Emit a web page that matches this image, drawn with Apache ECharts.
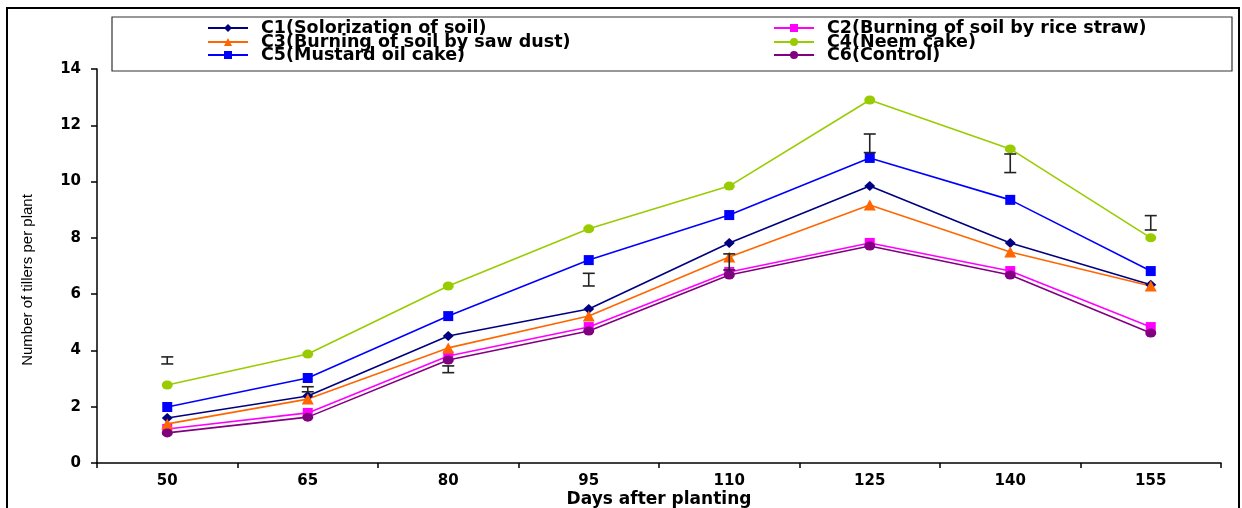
<!DOCTYPE html>
<html>
<head>
<meta charset="utf-8">
<script src="https://cdn.jsdelivr.net/npm/echarts@6/dist/echarts.min.js"></script>
<style>
html,body{margin:0;padding:0;background:#fff;overflow:hidden;}
#chart{width:1242px;height:508px;}
</style>
</head>
<body>
<div id="chart"></div>
<script>
const days = ['50', '65', '80', '95', '110', '125', '140', '155'];
const seriesNames = ['C1(Solorization of soil)', 'C2(Burning of soil by rice straw)', 'C3(Burning of soil by saw dust)', 'C4(Neem cake)', 'C5(Mustard oil cake)', 'C6(Control)'];
const c1 = [1.60, 2.38, 4.51, 5.47, 7.82, 9.84, 7.82, 6.33];
const c2 = [1.21, 1.78, 3.80, 4.83, 6.79, 7.82, 6.82, 4.83];
const c3 = [1.39, 2.27, 4.09, 5.22, 7.32, 9.17, 7.50, 6.29];
const c4 = [2.77, 3.87, 6.29, 8.32, 9.84, 12.90, 11.16, 8.00];
const c5 = [1.99, 3.02, 5.22, 7.21, 8.81, 10.84, 9.35, 6.82];
const c6 = [1.07, 1.63, 3.66, 4.69, 6.68, 7.71, 6.68, 4.62];
const errLow = [3.52, 2.53, 3.21, 6.29, 6.86, 11.03, 10.32, 8.28];
const errHigh = [3.77, 2.71, 3.45, 6.74, 7.43, 11.69, 10.98, 8.79];
const yMin = 0, yMax = 14, yStep = 2;

const values = [c1, c2, c3, c4, c5, c6];
const colors = ['#000080', '#FF00FF', '#FF6600', '#99CC00', '#0000FF', '#800080'];
const symbols = ['diamond', 'rect', 'triangle', 'circle', 'rect', 'circle'];
const symSizes = [[11, 10], [10, 10], [12, 11], [11, 9], [10, 10], [11, 9]];

const chart = echarts.init(document.getElementById('chart'));

const lineSeries = values.map((v, i) => ({
  name: seriesNames[i],
  type: 'line',
  data: v,
  symbol: symbols[i],
  symbolSize: symSizes[i],
  lineStyle: { color: colors[i], width: 1.6 },
  itemStyle: { color: colors[i] },
  z: 3
}));

const errData = days.map((d, i) => [i, errLow[i], errHigh[i]]);
const errSeries = {
  type: 'custom',
  name: 'err',
  data: errData,
  encode: { x: 0, y: [1, 2] },
  z: 4,
  renderItem: function (params, api) {
    const x = api.value(0);
    const lo = api.coord([x, api.value(1)]);
    const hi = api.coord([x, api.value(2)]);
    const hw = 6;
    const style = { stroke: '#222', lineWidth: 1.6, fill: null };
    return {
      type: 'group',
      children: [
        { type: 'line', shape: { x1: lo[0], y1: lo[1], x2: hi[0], y2: hi[1] }, style: style },
        { type: 'line', shape: { x1: lo[0] - hw, y1: lo[1], x2: lo[0] + hw, y2: lo[1] }, style: style },
        { type: 'line', shape: { x1: hi[0] - hw, y1: hi[1], x2: hi[0] + hw, y2: hi[1] }, style: style }
      ]
    };
  }
};

const legendPos = [
  { left: 207, top: 19 }, { left: 773, top: 19 },
  { left: 207, top: 33 }, { left: 773, top: 33 },
  { left: 207, top: 46 }, { left: 773, top: 46 }
];
const legends = seriesNames.map((n, i) => ({
  data: [n],
  left: legendPos[i].left,
  top: legendPos[i].top,
  padding: 0,
  itemWidth: 40,
  itemHeight: 10,
  selectedMode: false,
  textStyle: {
    fontFamily: 'DejaVu Sans',
    fontWeight: 'bold',
    fontSize: 17.5,
    color: '#000',
    padding: [0, 0, 0, 8],
    lineHeight: 17
  }
}));

const option = {
  animation: false,
  backgroundColor: '#fff',
  legend: legends,
  grid: { left: 97, width: 1124, top: 69, height: 394, containLabel: false, outerBoundsMode: 'none' },
  xAxis: {
    type: 'category',
    data: days,
    boundaryGap: true,
    name: 'Days after planting',
    nameLocation: 'middle',
    nameGap: 28,
    nameMoveOverlap: false,
    nameTextStyle: { fontFamily: 'DejaVu Sans', fontWeight: 'bold', fontSize: 17, color: '#000', lineHeight: 17 },
    axisLine: { lineStyle: { color: '#000', width: 1.5 } },
    axisTick: { show: true, length: 5, lineStyle: { color: '#000', width: 1.5 } },
    axisLabel: { fontFamily: 'DejaVu Sans', fontWeight: 'bold', fontSize: 15, color: '#000', margin: 11 },
    splitLine: { show: false }
  },
  yAxis: {
    type: 'value',
    min: yMin,
    max: yMax,
    interval: yStep,
    name: 'Number of tillers per plant',
    nameLocation: 'middle',
    nameGap: 62,
    nameMoveOverlap: false,
    nameTextStyle: { fontFamily: 'Liberation Sans', fontSize: 15, color: '#000', padding: [0, 28, 0, 0] },
    axisLine: { show: true, lineStyle: { color: '#000', width: 1.5 } },
    axisTick: { show: true, length: 6, lineStyle: { color: '#000', width: 1.5 } },
    axisLabel: { fontFamily: 'DejaVu Sans', fontWeight: 'bold', fontSize: 15, color: '#000', margin: 16 },
    splitLine: { show: false }
  },
  graphic: [
    { type: 'rect', shape: { x: 7, y: 8, width: 1232, height: 520 }, style: { fill: null, stroke: '#000', lineWidth: 2 }, z: -1, silent: true },
    { type: 'rect', shape: { x: 112, y: 17, width: 1120, height: 54 }, style: { fill: '#fff', stroke: '#333', lineWidth: 1.2 }, z: 0, silent: true }
  ],
  series: lineSeries.concat([errSeries])
};
chart.setOption(option);
</script>
</body>
</html>
